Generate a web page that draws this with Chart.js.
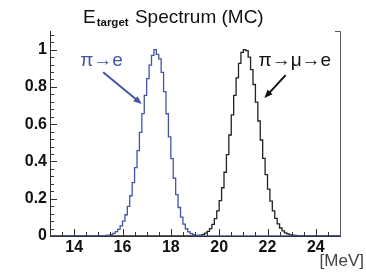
<!DOCTYPE html>
<html>
<head>
<meta charset="utf-8">
<script src="https://cdn.jsdelivr.net/npm/chart.js@4.4.0/dist/chart.umd.min.js"></script>
<style>
  html, body { margin: 0; padding: 0; background: #fff; }
  #wrap { position: relative; width: 366px; height: 275px; }
</style>
</head>
<body>
<div id="wrap"><canvas id="spectrum" width="366" height="275"></canvas></div>
<script>
// histogram binning (MeV)
const binWidth = 0.1;
const xTicks = [14, 16, 18, 20, 22, 24];
const yTicks = [0, 0.2, 0.4, 0.6, 0.8, 1];

// pi -> e (blue), first bin starts at 15.3 MeV
const blueStart = 15.3;
const blueValues = [
  0.003, 0.005, 0.009, 0.014, 0.023, 0.036, 0.054, 0.080, 0.114, 0.159,
  0.216, 0.286, 0.367, 0.458, 0.556, 0.657, 0.755, 0.844, 0.917, 0.969,
  1.000, 0.975, 0.950, 0.878, 0.775, 0.656, 0.532, 0.415, 0.310, 0.222,
  0.153, 0.101, 0.064, 0.039, 0.022, 0.013, 0.007, 0.003, 0.002
];

// pi -> mu -> e (black), first bin starts at 19.0 MeV
const blackStart = 19.0;
const blackValues = [
  0.001, 0.003, 0.005, 0.009, 0.015, 0.025, 0.040, 0.062, 0.093, 0.135,
  0.190, 0.259, 0.342, 0.437, 0.542, 0.650, 0.755, 0.849, 0.926, 0.985,
  1.000, 0.995, 0.960, 0.893, 0.813, 0.718, 0.617, 0.515, 0.417, 0.329,
  0.252, 0.187, 0.135, 0.095, 0.065, 0.043, 0.028, 0.017, 0.011, 0.0065,
  0.004, 0.003, 0.002, 0.002, 0.001, 0.001, 0.001, 0.001, 0.001, 0.001,
  0.001
];

const blue = "#4455a6";
const black = "#222";

// turn bin values into step points (left edges), padded with zero baseline
function histPoints(start, values) {
  const pts = [{ x: 13, y: 0 }];
  values.forEach((v, i) => {
    pts.push({ x: +(start + i * binWidth).toFixed(2), y: v });
  });
  pts.push({ x: +(start + values.length * binWidth).toFixed(2), y: 0 });
  pts.push({ x: 25, y: 0 });
  return pts;
}

function arrow(ctx, x1, y1, x2, y2, color) {
  const ang = Math.atan2(y2 - y1, x2 - x1);
  const head = 9;
  ctx.strokeStyle = color;
  ctx.fillStyle = color;
  ctx.lineWidth = 2;
  ctx.beginPath();
  ctx.moveTo(x1, y1);
  ctx.lineTo(x2 - Math.cos(ang) * head * 0.8, y2 - Math.sin(ang) * head * 0.8);
  ctx.stroke();
  ctx.beginPath();
  ctx.moveTo(x2, y2);
  ctx.lineTo(x2 - head * Math.cos(ang - 0.38), y2 - head * Math.sin(ang - 0.38));
  ctx.lineTo(x2 - head * Math.cos(ang + 0.38), y2 - head * Math.sin(ang + 0.38));
  ctx.closePath();
  ctx.fill();
}

// ROOT-style inside ticks, right frame, labels and title
const decorations = {
  id: "decorations",
  afterDraw(chart) {
    const ctx = chart.ctx;
    const xs = chart.scales.x;
    const ys = chart.scales.y;
    const area = chart.chartArea;
    ctx.save();

    // x ticks (inside, upward)
    ctx.strokeStyle = "#333";
    ctx.lineWidth = 1;
    for (let i = 0; i <= 24; i++) {
      const v = 13 + i * 0.5;
      const px = Math.round(xs.getPixelForValue(v)) + 0.5;
      const len = xTicks.includes(v) ? 7 : 4;
      ctx.beginPath();
      ctx.moveTo(px, area.bottom);
      ctx.lineTo(px, area.bottom - len);
      ctx.stroke();
    }
    // y ticks (inside, to the right)
    for (let i = 0; i <= 27; i++) {
      const v = +(i * 0.04).toFixed(2);
      const py = Math.round(ys.getPixelForValue(v)) + 0.5;
      const len = i % 5 === 0 ? 7 : 4;
      ctx.beginPath();
      ctx.moveTo(area.left, py);
      ctx.lineTo(area.left + len, py);
      ctx.stroke();
    }

    // right frame
    ctx.strokeStyle = "#555";
    ctx.beginPath();
    ctx.moveTo(area.right - 5, area.top + 0.5);
    ctx.lineTo(area.right + 0.5, area.top + 0.5);
    ctx.lineTo(area.right + 0.5, area.bottom);
    ctx.stroke();

    // title with subscript
    ctx.fillStyle = "#111";
    ctx.textBaseline = "alphabetic";
    ctx.textAlign = "left";
    ctx.font = "19px 'Liberation Sans', Arial, sans-serif";
    ctx.fillText("E", 83, 23);
    let tx = 83 + ctx.measureText("E").width + 1;
    ctx.font = "bold 11.5px 'Liberation Sans', Arial, sans-serif";
    ctx.fillText("target", tx, 26);
    tx += ctx.measureText("target").width + 1;
    ctx.font = "19px 'Liberation Sans', Arial, sans-serif";
    ctx.fillText(" Spectrum (MC)", tx, 23);

    // unit
    ctx.fillStyle = "#444";
    ctx.font = "17px 'Liberation Sans', Arial, sans-serif";
    ctx.textAlign = "right";
    ctx.fillText("[MeV]", 364, 266);

    // channel labels and arrows
    ctx.textAlign = "left";
    ctx.font = "19px 'Liberation Sans', 'DejaVu Sans', sans-serif";
    ctx.fillStyle = blue;
    ctx.fillText("π→e", xs.getPixelForValue(14.25), ys.getPixelForValue(0.912));
    arrow(ctx, xs.getPixelForValue(15.2), ys.getPixelForValue(0.879),
      xs.getPixelForValue(16.8), ys.getPixelForValue(0.708), blue);
    ctx.fillStyle = "#111";
    ctx.fillText("π→μ→e", xs.getPixelForValue(21.63), ys.getPixelForValue(0.912));
    arrow(ctx, xs.getPixelForValue(22.75), ys.getPixelForValue(0.863),
      xs.getPixelForValue(21.87), ys.getPixelForValue(0.74), "#111");

    ctx.restore();
  }
};

new Chart(document.getElementById("spectrum"), {
  type: "line",
  data: {
    datasets: [
      {
        label: "π→e",
        data: histPoints(blueStart, blueValues),
        borderColor: blue,
        borderWidth: 1.3,
        stepped: true,
        pointRadius: 0,
        fill: false
      },
      {
        label: "π→μ→e",
        data: histPoints(blackStart, blackValues),
        borderColor: black,
        borderWidth: 1.3,
        stepped: true,
        pointRadius: 0,
        fill: false
      }
    ]
  },
  options: {
    responsive: false,
    animation: false,
    layout: { padding: { top: 31, right: 26, left: 0, bottom: 0 } },
    plugins: {
      legend: { display: false },
      tooltip: { enabled: false },
      title: { display: false }
    },
    scales: {
      x: {
        type: "linear",
        min: 13,
        max: 25,
        grid: { display: false, drawTicks: false },
        border: { display: true, color: "#333", width: 1 },
        ticks: {
          padding: 2,
          color: "#111",
          font: { family: "'Liberation Sans', Arial, sans-serif", size: 16, weight: "bold" }
        },
        afterBuildTicks: s => { s.ticks = xTicks.map(v => ({ value: v })); },
        afterFit: s => { s.height = 39; }
      },
      y: {
        min: 0,
        max: 1.1,
        grid: { display: false, drawTicks: false },
        border: { display: true, color: "#333", width: 1 },
        ticks: {
          padding: 3,
          color: "#111",
          font: { family: "'Liberation Sans', Arial, sans-serif", size: 16, weight: "bold" },
          callback: v => String(v)
        },
        afterBuildTicks: s => { s.ticks = yTicks.map(v => ({ value: v })); },
        afterFit: s => { s.width = 50; }
      }
    }
  },
  plugins: [decorations]
});
</script>
</body>
</html>
